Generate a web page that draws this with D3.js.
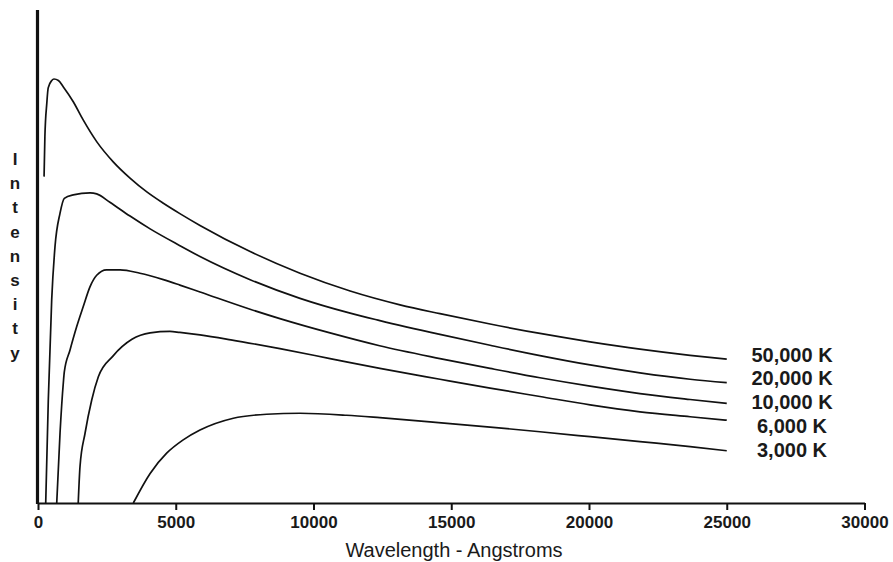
<!DOCTYPE html>
<html>
<head>
<meta charset="utf-8">
<script src="https://cdn.jsdelivr.net/npm/d3@7"></script>
<style>
  body { margin: 0; background: #fff; }
  svg { display: block; font-family: "Liberation Sans", Arial, Helvetica, sans-serif; }
</style>
</head>
<body>
<svg width="893" height="562"></svg>
<script>
// temperatures of each curve, top to bottom
const temps = [50000, 20000, 10000, 6000, 3000];

// [wavelength (Angstrom), intensity (arbitrary units)]
const k50000 = [
  [220, 66.2], [250, 74.3], [320, 81.1], [370, 84.2], [500, 85.7], [580, 86.0],
  [740, 85.7], [920, 84.4], [1280, 81.4], [1640, 77.7], [2130, 73.3], [2730, 69.2],
  [3340, 65.9], [3950, 63.1], [4550, 60.8], [5150, 58.7], [5880, 56.3], [7700, 51.0],
  [9510, 46.6], [11330, 43.0], [13140, 40.2], [14590, 38.4], [16410, 36.3],
  [18220, 34.4], [20040, 32.7], [21850, 31.2], [23670, 29.95], [25000, 29.2]
];
const k20000 = [
  [280, 0], [374, 20.9], [497, 41.2], [617, 52.0], [800, 58.8], [955, 61.8],
  [1280, 62.5], [1890, 62.9], [2130, 62.7], [2610, 61.0], [3340, 58.2], [4070, 55.6],
  [5150, 52.2], [5880, 50.0], [7700, 45.3], [9510, 41.5], [11330, 38.5], [12410, 37.0],
  [14590, 34.2], [16410, 32.0], [18220, 29.9], [20040, 28.0], [21850, 26.4],
  [23670, 25.1], [25000, 24.4]
];
const k10000 = [
  [680, 0], [800, 14.2], [918, 24.3], [955, 26.6], [1160, 31.0], [1400, 35.7],
  [1640, 39.8], [1890, 43.9], [2130, 46.2], [2490, 47.3], [2980, 47.3], [3700, 46.6],
  [4550, 45.3], [5150, 44.2], [5880, 42.8], [7700, 39.3], [8780, 37.4], [10600, 34.5],
  [12400, 31.9], [14590, 29.3], [16410, 27.3], [18220, 25.4], [20040, 23.7],
  [21850, 22.2], [23670, 21.0], [25000, 20.2]
];
const k6000 = [
  [1460, 0], [1525, 7.4], [1706, 14.1], [1950, 20.9], [2190, 25.6], [2720, 29.8],
  [3410, 33.2], [4070, 34.5], [4790, 34.8], [5150, 34.6], [5880, 34.1], [7000, 33.1],
  [8780, 31.3], [10600, 29.3], [12410, 27.3], [14590, 25.1], [16410, 23.3],
  [18220, 21.6], [20040, 19.9], [21850, 18.5], [23670, 17.5], [25000, 16.8]
];
const k3000 = [
  [3460, 0], [4070, 6.0], [4670, 10.1], [5270, 12.8], [5880, 14.8], [7090, 17.2],
  [8300, 18.0], [9510, 18.2], [11200, 17.8], [12410, 17.3], [14230, 16.45],
  [16410, 15.4], [18220, 14.45], [20040, 13.45], [21850, 12.45], [23670, 11.45],
  [25000, 10.6]
];
const seriesValues = [k50000, k20000, k10000, k6000, k3000];

const xTicks = [0, 5000, 10000, 15000, 20000, 25000, 30000];
const yLetters = "Intensity".split("");

const svg = d3.select("svg");

const x = d3.scaleLinear().domain([0, 30000]).range([38, 864.5]);
const y = d3.scaleLinear().domain([0, 100]).range([503, 10]);

// curves
const line = d3.line()
  .x(d => x(d[0]))
  .y(d => y(d[1]))
  .curve(d3.curveMonotoneX);

svg.append("g")
  .selectAll("path")
  .data(seriesValues)
  .join("path")
  .attr("d", line)
  .attr("fill", "none")
  .attr("stroke", "#111")
  .attr("stroke-width", 1.7);

// x axis
const xAxis = svg.append("g")
  .attr("transform", `translate(0,${y(0)})`)
  .call(d3.axisBottom(x).tickValues(xTicks).tickSize(7).tickSizeOuter(0).tickFormat(d3.format("d")));
xAxis.select(".domain").attr("stroke", "#111").attr("stroke-width", 2.2);
xAxis.selectAll(".tick line").attr("stroke", "#111").attr("stroke-width", 2);
xAxis.selectAll(".tick text")
  .attr("y", 13)
  .attr("dy", "0.71em")
  .attr("fill", "#1a1a1a")
  .attr("font-size", 17)
  .attr("font-weight", "bold")
  .attr("font-family", "Liberation Sans, Arial, sans-serif");

// y axis: plain thick line, no ticks
svg.append("line")
  .attr("x1", 37.5).attr("x2", 37.5)
  .attr("y1", y(100)).attr("y2", y(0) + 1)
  .attr("stroke", "#111")
  .attr("stroke-width", 3.2);

// x title
svg.append("text")
  .attr("x", 454)
  .attr("y", 557)
  .attr("text-anchor", "middle")
  .attr("font-size", 20)
  .attr("fill", "#1a1a1a")
  .text("Wavelength - Angstroms");

// stacked y title
svg.append("g")
  .selectAll("text")
  .data(yLetters)
  .join("text")
  .attr("x", 15)
  .attr("y", (d, i) => 165 + i * 24.2)
  .attr("text-anchor", "middle")
  .attr("font-size", 17)
  .attr("font-weight", "bold")
  .attr("fill", "#1a1a1a")
  .text(d => d);

// series labels
const fmt = d3.format(",");
svg.append("g")
  .selectAll("text")
  .data(temps)
  .join("text")
  .attr("x", 792)
  .attr("y", (d, i) => 361.7 + i * 23.75)
  .attr("text-anchor", "middle")
  .attr("font-size", 20)
  .attr("font-weight", "bold")
  .attr("fill", "#1a1a1a")
  .text(d => fmt(d) + " K");
</script>
</body>
</html>
